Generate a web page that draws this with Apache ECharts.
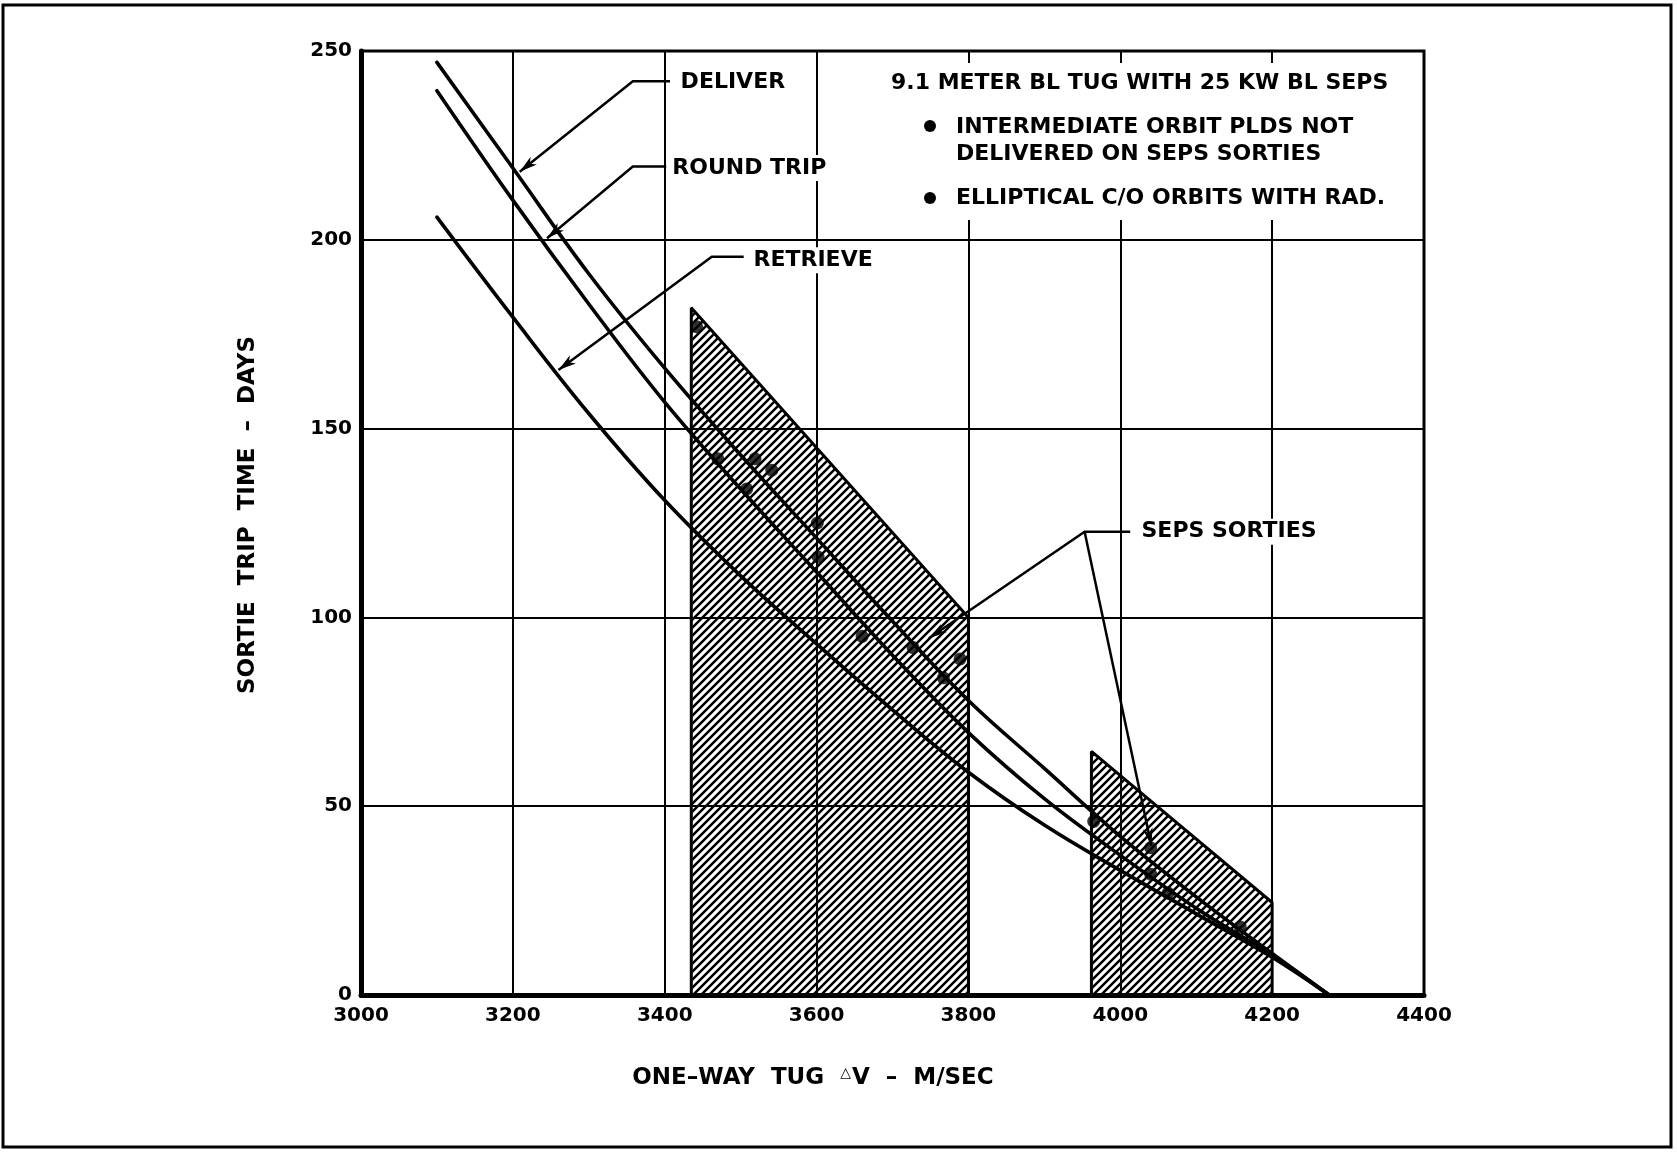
<!DOCTYPE html>
<html>
<head>
<meta charset="utf-8">
<title>Sortie trip time vs one-way tug delta-V</title>
<script src="https://cdn.jsdelivr.net/npm/echarts@6/dist/echarts.min.js"></script>
<style>
  html, body { margin: 0; padding: 0; background: #fff; }
  #chart { width: 1677px; height: 1152px; }
</style>
</head>
<body>
<div id="chart"></div>
<script>
// ---- axis ticks ----
const xTicks = [3000, 3200, 3400, 3600, 3800, 4000, 4200, 4400];
const yTicks = [0, 50, 100, 150, 200, 250];

// ---- trip-time curves (one-way tug delta-V in m/sec, time in days) ----
const deltaV        = [3100, 3200, 3300, 3400, 3500, 3600, 3700, 3800, 3900, 4000, 4100, 4200, 4275];
const deliverDays   = [247, 219, 191, 166, 143, 121, 99, 78, 60, 42, 26, 11, 0];
const roundTripDays = [239.5, 210.5, 183, 157, 134, 112, 90, 69.5, 52, 37, 23, 10.5, 0];
const retrieveDays  = [206, 179.5, 154, 131, 111, 93, 75.5, 59, 45, 33, 21.5, 10, 0];

// ---- individual sortie points ----
const sortieDV   = [3442, 3470, 3508, 3519, 3541, 3601, 3602, 3660, 3727, 3767, 3789, 3965, 4040, 4040, 4063, 4158];
const sortieDays = [177, 142, 134, 142, 139, 125, 116, 95, 92, 84, 89, 46, 39, 32, 27, 18];

// ---- SEPS sortie bands (hatched) ----
const band1DV   = [3435, 3435, 3800, 3800];
const band1Days = [0, 182, 100, 0];
const band2DV   = [3962, 3962, 4200, 4200];
const band2Days = [0, 64.5, 24.5, 0];

// ---- callout leaders: [dv, days] points, arrow at the last point ----
const deliverLeader   = [[3407, 242], [3358, 242], [3209, 218]];
const roundTripLeader = [[3402, 219.4], [3358, 219.4], [3245, 200.4]];
const retrieveLeader  = [[3504, 195.5], [3462, 195.5], [3260, 165.5]];
const sepsLeaderA     = [[4013, 122.7], [3953, 122.7], [3748, 94.5]];
const sepsLeaderB     = [[3953, 122.7], [4041, 39.5]];

// ---- callout labels ----
const calloutText = ['DELIVER', 'ROUND TRIP', 'RETRIEVE', 'SEPS SORTIES'];
const calloutDV   = [3417, 3406, 3513, 4024];
const calloutDays = [241.8, 219, 194.6, 122.7];

const FONT = '"DejaVu Sans", "Liberation Sans", Arial, sans-serif';

function zip(xs, ys) { return xs.map((x, i) => [x, ys[i]]); }

function hatchTile() {
  const c = document.createElement('canvas');
  c.width = 8; c.height = 8;
  const g = c.getContext('2d');
  g.strokeStyle = '#000';
  g.lineWidth = 2.5;
  g.beginPath();
  g.moveTo(-2, 10); g.lineTo(10, -2);
  g.moveTo(-2, 2);  g.lineTo(2, -2);
  g.moveTo(6, 10);  g.lineTo(10, 6);
  g.stroke();
  return c;
}
const hatch = { image: hatchTile(), repeat: 'repeat' };

function bandSeries(xs, ys) {
  return {
    type: 'line', z: 2, silent: true, symbol: 'none',
    data: zip(xs, ys),
    lineStyle: { color: '#000', width: 3 },
    areaStyle: { color: hatch, opacity: 1, origin: 'start' }
  };
}

function curveSeries(name, ys) {
  return {
    name, type: 'line', z: 3, silent: true, symbol: 'none',
    smooth: 0.4,
    data: zip(deltaV, ys),
    lineStyle: { color: '#000', width: 3.6, cap: 'round' }
  };
}

const leaders = [deliverLeader, roundTripLeader, retrieveLeader, sepsLeaderA, sepsLeaderB];

const chart = echarts.init(document.getElementById('chart'), null, { renderer: 'canvas' });

chart.setOption({
  animation: false,
  backgroundColor: '#fff',
  grid: {
    left: 361, right: 253, top: 51, bottom: 157,
    show: true, borderColor: '#000', borderWidth: 3, backgroundColor: 'transparent'
  },
  xAxis: {
    type: 'value', min: xTicks[0], max: xTicks[xTicks.length - 1], interval: 200,
    axisLine: { show: true, onZero: false, lineStyle: { color: '#000', width: 5 } },
    axisTick: { show: false },
    splitLine: { show: true, lineStyle: { color: '#000', width: 2 } },
    axisLabel: { color: '#000', fontFamily: FONT, fontWeight: 'bold', fontSize: 20, margin: 11,
                 formatter: v => String(v) }
  },
  yAxis: {
    type: 'value', min: yTicks[0], max: yTicks[yTicks.length - 1], interval: 50,
    axisLine: { show: true, onZero: false, lineStyle: { color: '#000', width: 5 } },
    axisTick: { show: false },
    splitLine: { show: true, lineStyle: { color: '#000', width: 2 } },
    axisLabel: { color: '#000', fontFamily: FONT, fontWeight: 'bold', fontSize: 20, margin: 9,
                 formatter: v => String(v) }
  },
  graphic: [
    // page frame
    { type: 'rect', z: 10, silent: true,
      shape: { x: 3, y: 5, width: 1668, height: 1142 },
      style: { fill: 'none', stroke: '#000', lineWidth: 3 } },
    // note panel
    { type: 'rect', z: 1, silent: true,
      shape: { x: 878, y: 63, width: 543, height: 157 },
      style: { fill: '#fff' } },
    { type: 'text', z: 2, x: 891, y: 83,
      style: { text: '9.1 METER BL TUG WITH 25 KW BL SEPS', font: 'bold 22px ' + FONT, fill: '#000', verticalAlign: 'middle' } },
    { type: 'circle', z: 2, shape: { cx: 930, cy: 126, r: 6 }, style: { fill: '#000' } },
    { type: 'text', z: 2, x: 956, y: 127,
      style: { text: 'INTERMEDIATE ORBIT PLDS NOT', font: 'bold 22px ' + FONT, fill: '#000', verticalAlign: 'middle' } },
    { type: 'text', z: 2, x: 956, y: 154,
      style: { text: 'DELIVERED ON SEPS SORTIES', font: 'bold 22px ' + FONT, fill: '#000', verticalAlign: 'middle' } },
    { type: 'circle', z: 2, shape: { cx: 930, cy: 198, r: 6 }, style: { fill: '#000' } },
    { type: 'text', z: 2, x: 956, y: 198,
      style: { text: 'ELLIPTICAL C/O ORBITS WITH RAD.', font: 'bold 22px ' + FONT, fill: '#000', verticalAlign: 'middle' } },
    // axis titles
    { type: 'text', z: 2, x: 813, y: 1078,
      style: {
        text: '{a|ONE–WAY  TUG  }{t|△}{a|V  –  M/SEC}',
        align: 'center', verticalAlign: 'middle',
        rich: {
          a: { font: 'bold 23px ' + FONT, fill: '#000', lineHeight: 28 },
          t: { font: 'bold 14px ' + FONT, fill: '#000', lineHeight: 28, verticalAlign: 'top', padding: [2, 1, 0, 0] }
        }
      } },
    { type: 'text', z: 2, x: 248, y: 515, rotation: Math.PI / 2,
      style: { text: 'SORTIE  TRIP  TIME  –  DAYS', font: 'bold 23px ' + FONT, fill: '#000', align: 'center', verticalAlign: 'middle' } }
  ],
  series: [
    bandSeries(band1DV, band1Days),
    bandSeries(band2DV, band2Days),
    curveSeries('DELIVER', deliverDays),
    curveSeries('ROUND TRIP', roundTripDays),
    curveSeries('RETRIEVE', retrieveDays),
    {
      // leader lines with arrowheads
      type: 'custom', z: 4, silent: true, clip: false,
      data: leaders.map(l => l[l.length - 1]),
      encode: { x: 0, y: 1 },
      renderItem(params, api) {
        const pts = leaders[params.dataIndex].map(p => api.coord(p));
        const tip = pts[pts.length - 1];
        const prev = pts[pts.length - 2];
        let dx = tip[0] - prev[0], dy = tip[1] - prev[1];
        const len = Math.hypot(dx, dy);
        dx /= len; dy /= len;
        const nx = -dy, ny = dx;
        const L = 18, W = 5;
        const bx = tip[0] - dx * L, by = tip[1] - dy * L;
        return {
          type: 'group',
          children: [
            { type: 'polyline', shape: { points: pts },
              style: { stroke: '#000', lineWidth: 2.5, fill: 'none' } },
            { type: 'polygon',
              shape: { points: [
                tip,
                [bx + nx * W, by + ny * W],
                [tip[0] - dx * L * 0.72, tip[1] - dy * L * 0.72],
                [bx - nx * W, by - ny * W]
              ] },
              style: { fill: '#000' } }
          ]
        };
      }
    },
    {
      type: 'scatter', z: 5, silent: true,
      symbol: 'circle', symbolSize: 13,
      itemStyle: { color: '#000' },
      data: zip(sortieDV, sortieDays)
    },
    {
      // callout labels
      type: 'custom', z: 6, silent: true, clip: false,
      data: zip(calloutDV, calloutDays),
      encode: { x: 0, y: 1 },
      renderItem(params, api) {
        const p = api.coord([api.value(0), api.value(1)]);
        return {
          type: 'text', x: p[0], y: p[1],
          style: {
            text: calloutText[params.dataIndex],
            font: 'bold 22px ' + FONT, fill: '#000',
            align: 'left', verticalAlign: 'middle',
            backgroundColor: '#fff', padding: [2, 3]
          }
        };
      }
    }
  ]
});
</script>
</body>
</html>
